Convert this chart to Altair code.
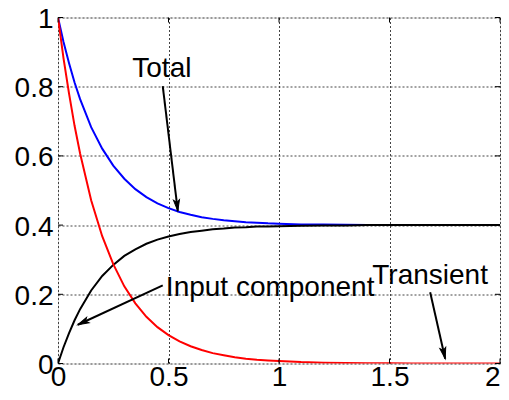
import altair as alt
import pandas as pd

# time samples
t = [0, 0.025, 0.05, 0.075, 0.1, 0.15, 0.2, 0.25, 0.3, 0.35, 0.4, 0.45, 0.5, 0.55, 0.6,
     0.65, 0.7, 0.75, 0.8, 0.85, 0.9, 0.95, 1.0, 1.1, 1.2, 1.3, 1.4, 1.5, 1.6, 1.8, 2.0]
total = [1.0, 0.929, 0.868, 0.812, 0.764, 0.683, 0.621, 0.572, 0.534, 0.504, 0.481, 0.463,
         0.449, 0.438, 0.430, 0.423, 0.418, 0.414, 0.411, 0.408, 0.407, 0.405, 0.404, 0.402,
         0.4015, 0.401, 0.4006, 0.4004, 0.4002, 0.4001, 0.4]
input_comp = [0.0, 0.047, 0.088, 0.125, 0.157, 0.211, 0.253, 0.285, 0.311, 0.330, 0.346,
              0.358, 0.367, 0.374, 0.380, 0.384, 0.388, 0.390, 0.393, 0.394, 0.396, 0.396,
              0.397, 0.398, 0.399, 0.399, 0.4, 0.4, 0.4, 0.4, 0.4]
transient = [1.0, 0.882, 0.78, 0.687, 0.607, 0.472, 0.368, 0.287, 0.223, 0.174, 0.135, 0.105,
             0.082, 0.064, 0.050, 0.039, 0.030, 0.024, 0.018, 0.014, 0.011, 0.009, 0.007,
             0.004, 0.0025, 0.0015, 0.001, 0.0006, 0.0003, 0.0001, 0.0]

x_ticks = [0, 0.5, 1, 1.5, 2]
y_ticks = [0, 0.2, 0.4, 0.6, 0.8, 1]

# annotations
label_text = ["Total", "Input component", "Transient"]
label_x = [0.47, 0.488, 1.422]
label_y = [0.828, 0.195, 0.229]
label_align = ["center", "left", "left"]
arrow_x0 = [0.474, 0.474, 1.684]
arrow_y0 = [0.802, 0.226, 0.206]
arrow_x1 = [0.542, 0.09, 1.752]
arrow_y1 = [0.441, 0.112, 0.014]
arrow_angle = [173.2, 244.8, 167.4]

W, H = 442, 346
FONT = "Liberation Sans"
FS = 28

curves = pd.DataFrame({"t": t, "Total": total, "Input": input_comp, "Transient": transient})

xs = alt.Scale(domain=[0, 2], nice=False, zero=False)
ys = alt.Scale(domain=[0, 1], nice=False, zero=False)

base = alt.Chart(curves)

def curve(col, color):
    return base.mark_line(color=color, strokeWidth=2, clip=True).encode(
        x=alt.X("t:Q", scale=xs, axis=alt.Axis(values=x_ticks, title=None, grid=True,
                                               gridDash=[2, 2], gridColor="#444",
                                               gridOpacity=1, domain=False, ticks=False,
                                               tickSize=0, labelFont=FONT, labelFontSize=FS,
                                               labelColor="black", labelPadding=0,
                                               labelAlign=alt.ExprRef(
                                                   "datum.value == 2 ? 'right' : 'center'"),
                                               labelFlush=False, format="~g")),
        y=alt.Y(f"{col}:Q", scale=ys, axis=alt.Axis(values=y_ticks, title=None, grid=True,
                                                    gridDash=[2, 2], gridColor="#444",
                                                    gridOpacity=1, domain=False, ticks=False,
                                                    tickSize=0, labelFont=FONT, labelFontSize=FS,
                                                    labelColor="black", labelPadding=5,
                                                    labelOffset=2,
                                                    labelFlush=False, format="~g")),
    )

blue = curve("Total", "#0000ff")
black = curve("Input", "black")
red = curve("Transient", "#ff0000")

ann = pd.DataFrame({"text": label_text, "x": label_x, "y": label_y, "align": label_align})
texts = []
for a in ["center", "left"]:
    texts.append(alt.Chart(ann[ann["align"] == a]).mark_text(
        align=a, baseline="alphabetic", font=FONT, fontSize=FS, color="black").encode(
        x=alt.X("x:Q", scale=xs), y=alt.Y("y:Q", scale=ys), text="text:N"))

arr = pd.DataFrame({"x0": arrow_x0, "y0": arrow_y0, "x1": arrow_x1, "y1": arrow_y1,
                    "ang": arrow_angle})
shafts = alt.Chart(arr).mark_rule(color="black", strokeWidth=2).encode(
    x=alt.X("x0:Q", scale=xs), y=alt.Y("y0:Q", scale=ys), x2="x1:Q", y2="y1:Q")
heads = alt.Chart(arr).mark_point(
    shape="M0,0L-0.6,2.2L0,1.7L0.6,2.2Z", filled=True, fill="black", stroke="black",
    strokeWidth=1, opacity=1, size=100).encode(
    x=alt.X("x1:Q", scale=xs), y=alt.Y("y1:Q", scale=ys),
    angle=alt.Angle("ang:Q", scale=None))

# inward tick marks on all four sides
xt = pd.DataFrame({"v": x_ticks})
yt = pd.DataFrame({"v": y_ticks})
tick_bot = alt.Chart(xt).mark_rule(color="black").encode(
    x=alt.X("v:Q", scale=xs), y=alt.value(H), y2=alt.value(H - 5))
tick_top = alt.Chart(xt).mark_rule(color="black").encode(
    x=alt.X("v:Q", scale=xs), y=alt.value(0), y2=alt.value(5))
tick_left = alt.Chart(yt).mark_rule(color="black").encode(
    y=alt.Y("v:Q", scale=ys), x=alt.value(0), x2=alt.value(5))
tick_right = alt.Chart(yt).mark_rule(color="black").encode(
    y=alt.Y("v:Q", scale=ys), x=alt.value(W), x2=alt.value(W - 5))

chart = alt.layer(blue, black, red, shafts, heads, *texts,
                  tick_bot, tick_top, tick_left, tick_right).properties(
    width=W, height=H,
    autosize=alt.AutoSizeParams(type="none"),
    padding={"left": 50, "top": 9.5, "right": 1, "bottom": 23.5},
).configure_view(stroke="black", strokeWidth=2).configure(background="white")

chart.save("out.html", embed_options={"renderer": "svg", "actions": False})
